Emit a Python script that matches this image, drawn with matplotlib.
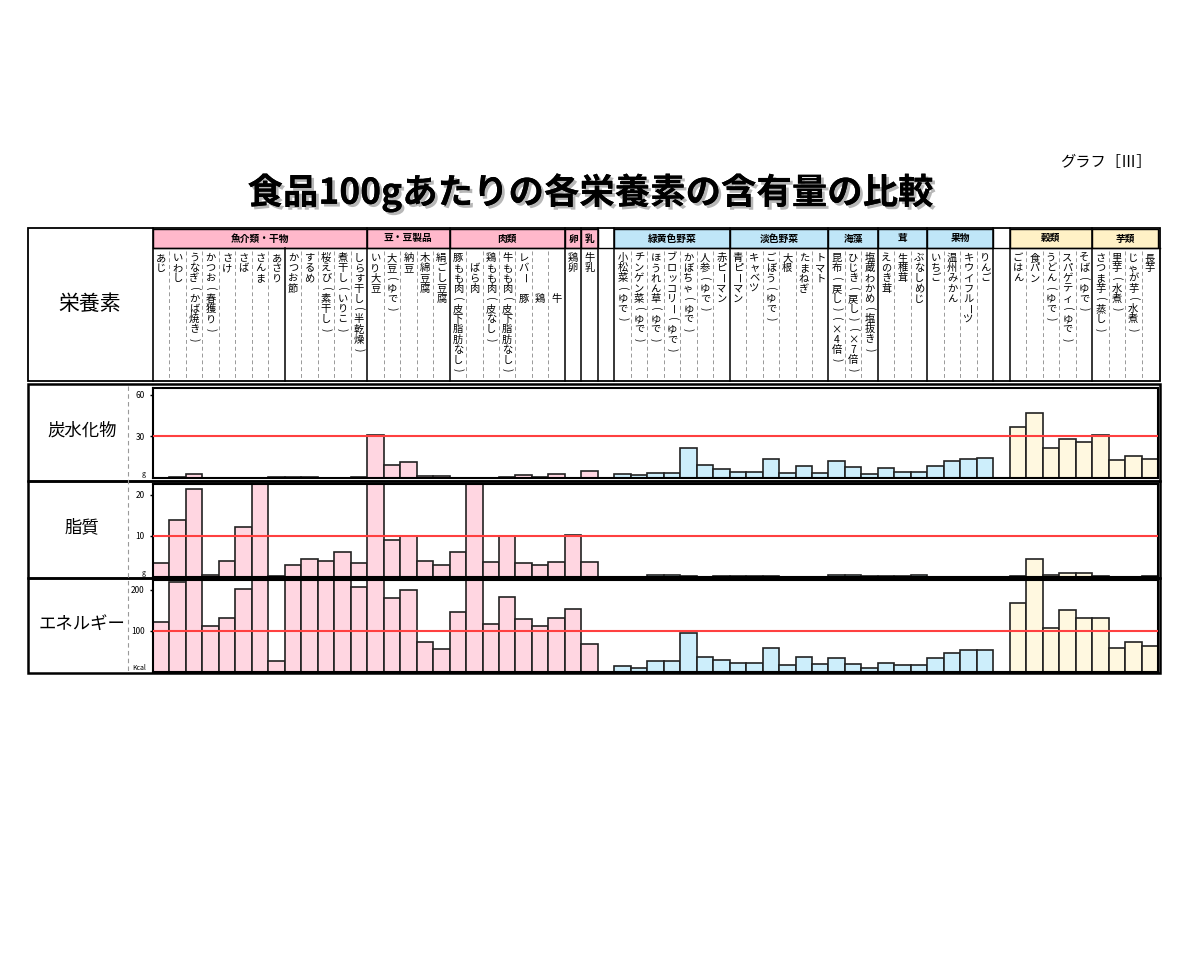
import matplotlib
matplotlib.use('Agg')
import matplotlib.pyplot as plt
import matplotlib.patheffects as pe
from matplotlib.patches import Rectangle
import numpy as np

plt.rcParams['font.family'] = ['Noto Sans CJK JP', 'DejaVu Sans']

# --- データ (食品100gあたり) ---
group_names = ['魚介類・干物', '豆・豆製品', '肉類', '卵', '乳', '',
               '緑黄色野菜', '淡色野菜', '海藻', '茸', '果物', '', '穀類', '芋類']
group_sizes = [13, 5, 7, 1, 1, 1, 7, 6, 3, 3, 4, 1, 5, 4]
group_kind = ['p', 'p', 'p', 'p', 'p', '', 'b', 'b', 'b', 'b', 'b', '', 'y', 'y']

foods = ['あじ', 'いわし', 'うなぎ(かば焼き)', 'かつお(春獲り)', 'さけ', 'さば', 'さんま', 'あさり',
         'かつお節', 'するめ', '桜えび(素干し)', '煮干し(いりこ)', 'しらす干し(半乾燥)',
         'いり大豆', '大豆(ゆで)', '納豆', '木綿豆腐', '絹ごし豆腐',
         '豚もも肉(皮下脂肪なし)', '　ばら肉', '鶏もも肉(皮なし)', '牛もも肉(皮下脂肪なし)',
         'レバー　豚', '　　　　鶏', '　　　　牛',
         '鶏卵', '牛乳', '',
         '小松菜(ゆで)', 'チンゲン菜(ゆで)', 'ほうれん草(ゆで)', 'ブロッコリー(ゆで)',
         'かぼちゃ(ゆで)', '人参(ゆで)', '赤ピーマン',
         '青ピーマン', 'キャベツ', 'ごぼう(ゆで)', '大根', 'たまねぎ', 'トマト',
         '昆布(戻し)(×4倍)', 'ひじき(戻し)(×7倍)', '塩蔵わかめ(塩抜き)',
         'えのき茸', '生椎茸', 'ぶなしめじ',
         'いちご', '温州みかん', 'キウイフルーツ', 'りんご', '',
         'ごはん', '食パン', 'うどん(ゆで)', 'スパゲティ(ゆで)', 'そば(ゆで)',
         'さつま芋(蒸し)', '里芋(水煮)', 'じゃが芋(水煮)', '長芋']

nan = np.nan
carbs = [0.1, 0.7, 3.1, 0.1, 0.1, 0.3, 0.1, 0.7, 0.8, 0.7, 0.1, 0.3, 0.5,
         30.7, 9.3, 11.7, 1.5, 1.8,
         0.2, 0.1, 0.1, 0.5, 2.5, 0.6, 3.2,
         0.3, 4.9, nan,
         2.9, 2.2, 3.7, 3.7, 21.5, 9.3, 6.6,
         4.6, 4.6, 13.7, 3.7, 8.5, 3.9,
         12.4, 7.8, 2.9,
         7.3, 4.4, 4.4,
         8.8, 12.0, 13.7, 14.6, nan,
         37.1, 46.6, 21.5, 28.3, 25.9,
         31.0, 12.7, 16.1, 13.7]

fat = [3.3, 13.8, 21.3, 0.4, 3.9, 12.2, 24.6, 0.3, 2.8, 4.3, 3.9, 6.1, 3.3,
       23.0, 9.1, 10.0, 3.9, 2.8,
       6.1, 34.6, 3.6, 10.0, 3.3, 2.9, 3.6,
       10.3, 3.6, nan,
       0.1, 0.1, 0.5, 0.4, 0.3, 0.1, 0.2,
       0.2, 0.2, 0.2, 0.1, 0.1, 0.1,
       0.4, 0.4, 0.3,
       0.2, 0.3, 0.6,
       0.1, 0.1, 0.1, 0.1, nan,
       0.3, 4.4, 0.4, 0.9, 1.0,
       0.2, 0.1, 0.1, 0.3]

energy = [121, 219, 293, 113, 132, 203, 310, 28, 356, 334, 312, 332, 206,
          437, 180, 200, 74, 55,
          147, 386, 117, 182, 129, 112, 132,
          153, 67, nan,
          14, 10, 26, 26, 94, 37, 29,
          22, 22, 58, 16, 37, 19,
          34, 19, 10,
          23, 16, 16,
          34, 47, 53, 53, nan,
          169, 264, 106, 150, 132,
          132, 58, 73, 63]

# --- 色 ---
BAR_COL = {'p': '#ffd6e1', 'b': '#cdeefb', 'y': '#fff8e0', '': 'white'}
HEAD_COL = {'p': '#ffb8cb', 'b': '#bfe6f8', 'y': '#fff1c6', '': 'white'}

W, H = 1200, 960
X0, X1 = 153, 1158          # 列領域
N = len(foods)
CW = (X1 - X0) / N


def box(x0, y0, x1, y1):
    return [x0 / W, 1 - y1 / H, (x1 - x0) / W, (y1 - y0) / H]


def colx(i):
    return X0 + i * CW


fig = plt.figure(figsize=(12, 9.6), dpi=100)
bg = fig.add_axes([0, 0, 1, 1])
bg.set_xlim(0, W)
bg.set_ylim(H, 0)
bg.axis('off')

# タイトル
bg.text(590, 192, '食品100gあたりの各栄養素の含有量の比較', ha='center', va='center',
        fontsize=25.5, fontweight='bold',
        path_effects=[pe.withSimplePatchShadow(offset=(2, -2), shadow_rgbFace='#888888', alpha=0.6),
                      pe.Normal()])
bg.text(1152, 162, 'グラフ［Ⅲ］', ha='right', va='center', fontsize=11)

# --- ヘッダー表 ---
bg.add_patch(Rectangle((28, 228), 1132, 153, fill=False, lw=1.3, ec='black'))
bg.plot([X0, X0], [228, 381], color='black', lw=1.2)
bg.text(90, 304, '栄養素', ha='center', va='center', fontsize=15)

kinds = []
start = 0
bounds = [0]
for name, size, kind in zip(group_names, group_sizes, group_kind):
    xa, xb = colx(start), colx(start + size)
    if name:
        bg.add_patch(Rectangle((xa, 229), xb - xa, 19, fc=HEAD_COL[kind], ec='black', lw=1))
        bg.text((xa + xb) / 2, 238.5, name, ha='center', va='center', fontsize=7, fontweight='bold')
    kinds += [kind] * size
    start += size
    bounds.append(start)

bg.plot([X0, 1160], [248, 248], color='black', lw=1)
for i in range(1, N):
    x = colx(i)
    if i in bounds:
        bg.plot([x, x], [228, 381], color='black', lw=1.1)
    elif i == 8:
        bg.plot([x, x], [248, 381], color='black', lw=1.1)
    else:
        bg.plot([x, x], [251, 380], color='#999999', lw=0.7, ls=(0, (4, 3)))

# 縦書きラベル
ROT = {'(': -90, ')': -90, 'ー': -90}
for i, name in enumerate(foods):
    cx = colx(i) + CW / 2
    for j, ch in enumerate(name):
        if ch == '　':
            continue
        bg.text(cx, 258 + j * 10.2, ch, ha='center', va='center', fontsize=7.4,
                rotation=ROT.get(ch, 0))

# --- グラフ ---
panels = [
    ('炭水化物', carbs, 30, [30, 60], 65, 'g', (384, 481), (388, 478)),
    ('脂質', fat, 10, [10, 20], 22.6, 'g', (481, 578), (484, 577)),
    ('エネルギー', energy, 100, [100, 200], 224, 'Kcal', (578, 673), (580, 672)),
]

bar_colors = [BAR_COL[k] for k in kinds]
x = np.arange(N)

for label, vals, ref, ticks, ymax, unit, (py0, py1), (ay0, ay1) in panels:
    bg.add_patch(Rectangle((28, py0), 1132, py1 - py0, fill=False, lw=1.8, ec='black'))
    bg.text(82, (py0 + py1) / 2 - 2, label, ha='center', va='center', fontsize=12.5)
    bg.text(146, ay1 - 4, unit, ha='right', va='center', fontsize=5)

    ax = fig.add_axes(box(X0, ay0, X1, ay1))
    ax.bar(x, vals, width=1.0, color=bar_colors, edgecolor='#222222', linewidth=1.2)
    ax.axhline(ref, color='#ff4040', lw=1.5, zorder=3)
    ax.set_xlim(-0.5, N - 0.5)
    ax.set_ylim(0, ymax)
    ax.set_xticks([])
    ax.set_yticks(ticks)
    ax.set_yticklabels([str(t) for t in ticks])
    ax.tick_params(axis='y', length=2, width=1, labelsize=6, pad=4)
    for s in ax.spines.values():
        s.set_linewidth(1.5)

bg.plot([128, 128], [386, 672], color='#999999', lw=0.8, ls=(0, (4, 3)))

fig.savefig('out.png', dpi=100)
